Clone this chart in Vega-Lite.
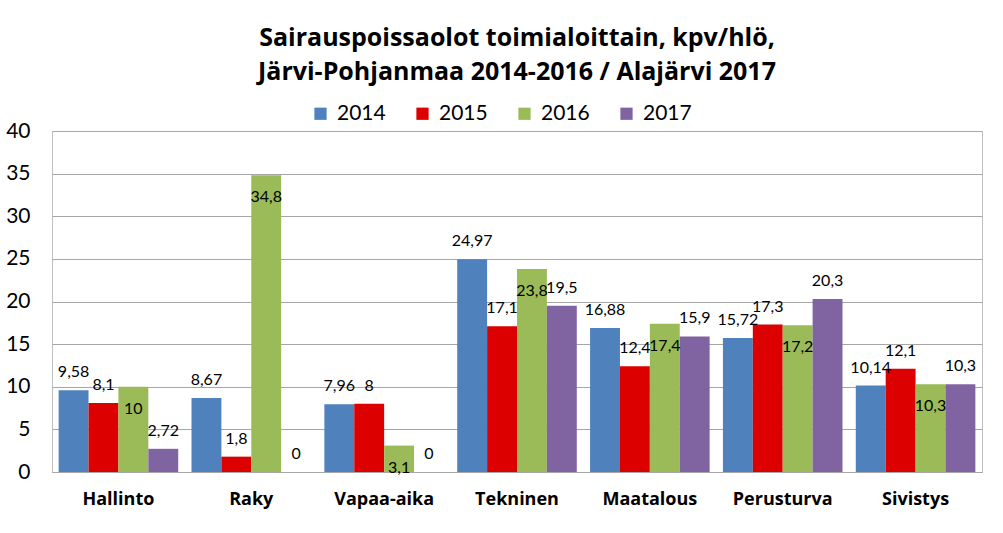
{
  "$schema": "https://vega.github.io/schema/vega-lite/v6.json",
  "width": 930,
  "height": 341,
  "autosize": {"type": "none"},
  "padding": {"left": 52, "top": 131, "right": 21, "bottom": 61},
  "background": "white",
  "title": {
    "text": ["Sairauspoissaolot toimialoittain, kpv/hlö,", "Järvi-Pohjanmaa 2014-2016 / Alajärvi 2017"],
    "font": "Open Sans",
    "fontSize": 25,
    "fontWeight": "bold",
    "lineHeight": 34,
    "anchor": "middle",
    "offset": 18,
    "color": "#000000"
  },
  "config": {
    "locale": {"number": {"decimal": ",", "thousands": " ", "grouping": [3], "currency": ["", " €"]}},
    "view": {"stroke": "#BFBFBF", "strokeWidth": 1},
    "font": "Lato"
  },
  "data": {
    "values": [
      {"toimiala": "Hallinto", "vuosi": "2014", "arvo": 9.58},
      {"toimiala": "Hallinto", "vuosi": "2015", "arvo": 8.1},
      {"toimiala": "Hallinto", "vuosi": "2016", "arvo": 10},
      {"toimiala": "Hallinto", "vuosi": "2017", "arvo": 2.72},
      {"toimiala": "Raky", "vuosi": "2014", "arvo": 8.67},
      {"toimiala": "Raky", "vuosi": "2015", "arvo": 1.8},
      {"toimiala": "Raky", "vuosi": "2016", "arvo": 34.8},
      {"toimiala": "Raky", "vuosi": "2017", "arvo": 0},
      {"toimiala": "Vapaa-aika", "vuosi": "2014", "arvo": 7.96},
      {"toimiala": "Vapaa-aika", "vuosi": "2015", "arvo": 8},
      {"toimiala": "Vapaa-aika", "vuosi": "2016", "arvo": 3.1},
      {"toimiala": "Vapaa-aika", "vuosi": "2017", "arvo": 0},
      {"toimiala": "Tekninen", "vuosi": "2014", "arvo": 24.97},
      {"toimiala": "Tekninen", "vuosi": "2015", "arvo": 17.1},
      {"toimiala": "Tekninen", "vuosi": "2016", "arvo": 23.8},
      {"toimiala": "Tekninen", "vuosi": "2017", "arvo": 19.5},
      {"toimiala": "Maatalous", "vuosi": "2014", "arvo": 16.88},
      {"toimiala": "Maatalous", "vuosi": "2015", "arvo": 12.4},
      {"toimiala": "Maatalous", "vuosi": "2016", "arvo": 17.4},
      {"toimiala": "Maatalous", "vuosi": "2017", "arvo": 15.9},
      {"toimiala": "Perusturva", "vuosi": "2014", "arvo": 15.72},
      {"toimiala": "Perusturva", "vuosi": "2015", "arvo": 17.3},
      {"toimiala": "Perusturva", "vuosi": "2016", "arvo": 17.2},
      {"toimiala": "Perusturva", "vuosi": "2017", "arvo": 20.3},
      {"toimiala": "Sivistys", "vuosi": "2014", "arvo": 10.14},
      {"toimiala": "Sivistys", "vuosi": "2015", "arvo": 12.1},
      {"toimiala": "Sivistys", "vuosi": "2016", "arvo": 10.3},
      {"toimiala": "Sivistys", "vuosi": "2017", "arvo": 10.3}
    ]
  },
  "encoding": {
    "x": {
      "field": "toimiala",
      "type": "nominal",
      "sort": ["Hallinto", "Raky", "Vapaa-aika", "Tekninen", "Maatalous", "Perusturva", "Sivistys"],
      "scale": {"paddingInner": 0.1, "paddingOuter": 0.05},
      "axis": {
        "title": null,
        "labelAngle": 0,
        "labelFont": "Open Sans",
        "labelFontSize": 18,
        "labelFontWeight": "bold",
        "labelColor": "#000000",
        "labelPadding": 18,
        "ticks": false,
        "domain": true,
        "domainColor": "#A6A6A6"
      }
    },
    "xOffset": {"field": "vuosi", "type": "nominal", "sort": ["2014", "2015", "2016", "2017"]},
    "y": {
      "field": "arvo",
      "type": "quantitative",
      "scale": {"domain": [0, 40], "nice": false},
      "axis": {
        "title": null,
        "values": [0, 5, 10, 15, 20, 25, 30, 35, 40],
        "format": "d",
        "labelFont": "Lato",
        "labelFontSize": 21,
        "labelColor": "#000000",
        "labelPadding": 22,
        "ticks": false,
        "domain": false,
        "grid": true,
        "gridColor": "#A6A6A6",
        "gridWidth": 1
      }
    }
  },
  "layer": [
    {
      "mark": {"type": "bar"},
      "encoding": {
        "color": {
          "field": "vuosi",
          "type": "nominal",
          "scale": {"domain": ["2014", "2015", "2016", "2017"], "range": ["#4F81BD", "#DD0000", "#9BBB59", "#8064A2"]},
          "legend": {
            "title": null,
            "orient": "none",
            "direction": "horizontal",
            "legendX": 258,
            "legendY": -28,
            "symbolType": "square",
            "symbolSize": 150,
            "symbolStrokeWidth": 0,
            "labelFont": "Lato",
            "labelFontSize": 21,
            "labelColor": "#000000",
            "labelOffset": 6,
            "columnPadding": 26
          }
        }
      }
    },
    {
      "transform": [{"filter": "datum.vuosi !== '2016'"}],
      "mark": {"type": "text", "font": "Lato", "fontSize": 16, "color": "#000000", "baseline": "alphabetic", "dy": -13},
      "encoding": {"text": {"field": "arvo", "type": "quantitative", "format": ".2~f"}}
    },
    {
      "transform": [{"filter": "datum.vuosi === '2016'"}],
      "mark": {"type": "text", "font": "Lato", "fontSize": 16, "color": "#000000", "baseline": "alphabetic", "dy": 27},
      "encoding": {"text": {"field": "arvo", "type": "quantitative", "format": ".2~f"}}
    }
  ]
}
